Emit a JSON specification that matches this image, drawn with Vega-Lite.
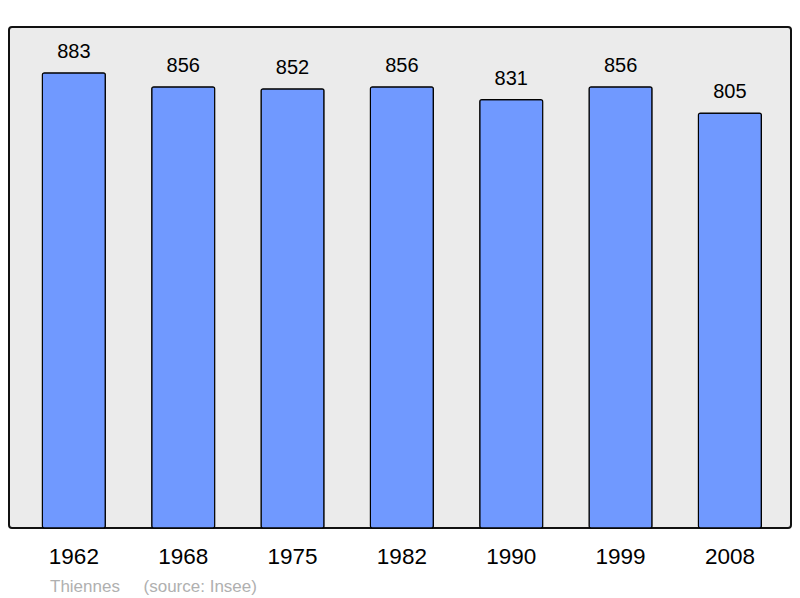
{
  "$schema": "https://vega.github.io/schema/vega-lite/v6.json",
  "width": 782,
  "height": 501,
  "autosize": {"type": "none"},
  "padding": {"left": 9, "top": 27, "right": 9, "bottom": 70},
  "background": "white",
  "config": {
    "view": {"fill": "#ebebeb", "stroke": "#111111", "strokeWidth": 2, "cornerRadius": 3},
    "font": "Liberation Sans"
  },
  "title": {
    "text": "Thiennes\u00a0\u00a0\u00a0\u00a0\u00a0(source: Insee)",
    "orient": "bottom",
    "anchor": "start",
    "frame": "group",
    "dx": 41,
    "offset": 24,
    "baseline": "alphabetic",
    "fontSize": 17,
    "fontWeight": "normal",
    "color": "#b0b0b0",
    "font": "Liberation Sans"
  },
  "data": {
    "values": [
      {"year": "1962", "pop": 883},
      {"year": "1968", "pop": 856},
      {"year": "1975", "pop": 852},
      {"year": "1982", "pop": 856},
      {"year": "1990", "pop": 831},
      {"year": "1999", "pop": 856},
      {"year": "2008", "pop": 805}
    ]
  },
  "encoding": {
    "x": {
      "field": "year",
      "type": "nominal",
      "sort": null,
      "scale": {"paddingInner": 0.424, "paddingOuter": 0.288, "align": 0.53},
      "axis": {
        "title": null,
        "domain": false,
        "ticks": false,
        "labelAngle": 0,
        "labelFontSize": 22.5,
        "labelColor": "#000000",
        "labelBaseline": "alphabetic",
        "labelPadding": 35,
        "labelFont": "Liberation Sans"
      }
    },
    "y": {
      "field": "pop",
      "type": "quantitative",
      "scale": {"domain": [0, 972]},
      "axis": null
    }
  },
  "layer": [
    {
      "mark": {"type": "bar", "color": "#7099ff", "stroke": "#000000", "strokeWidth": 1.2, "cornerRadius": 2}
    },
    {
      "mark": {"type": "text", "baseline": "alphabetic", "dy": -15, "fontSize": 20, "color": "#000000", "font": "Liberation Sans"},
      "encoding": {"text": {"field": "pop", "type": "quantitative"}}
    }
  ]
}
